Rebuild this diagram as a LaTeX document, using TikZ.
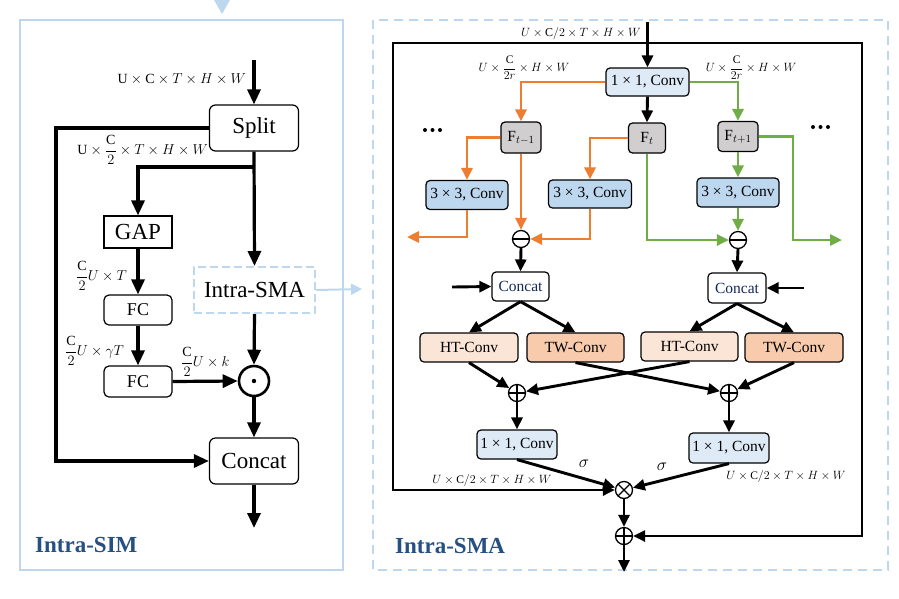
\documentclass[tikz,border=0pt]{standalone}
\usepackage{amsmath}
\usepackage{fontspec}
\setmainfont{Liberation Serif}
\usetikzlibrary{arrows.meta,calc}
\definecolor{frameblue}{RGB}{189,215,238}
\definecolor{convlight}{RGB}{222,235,247}
\definecolor{convmid}{RGB}{189,215,238}
\definecolor{fgray}{RGB}{208,206,206}
\definecolor{htfill}{RGB}{251,229,214}
\definecolor{twfill}{RGB}{248,203,173}
\definecolor{myorange}{RGB}{237,125,49}
\definecolor{mygreen}{RGB}{112,173,71}
\definecolor{titleblue}{RGB}{38,80,130}
\definecolor{catblue}{RGB}{20,40,90}
\begin{document}
\begin{tikzpicture}[x=1pt,y=-1pt,
  box/.style={draw=black, line width=1.2pt, rounded corners=4pt, inner sep=0pt, align=center},
  bigfont/.style={font=\fontsize{23}{26}\selectfont},
  midfont/.style={font=\fontsize{18}{21}\selectfont},
  smfont/.style={font=\fontsize{15.5}{18}\selectfont},
  lab/.style={font=\fontsize{14}{16}\selectfont, inner sep=0pt},
  rlab/.style={font=\fontsize{12}{14}\selectfont, inner sep=0pt},
  slab/.style={font=\fontsize{11.5}{13}\selectfont, inner sep=0pt},
  arrL/.style={line width=3.2pt, -{Triangle[length=15pt,width=13pt]}},
  arrR/.style={line width=2.9pt, -{Triangle[length=12pt,width=11pt]}},
  oarr/.style={arrR, draw=myorange, color=myorange},
  garr/.style={arrR, draw=mygreen, color=mygreen},
  opc/.style={circle, draw, line width=1.3pt, minimum size=17pt, inner sep=0pt},
  ominusc/.style={opc, path picture={\draw[line width=1.3pt] (path picture bounding box.west) -- (path picture bounding box.east);}},
  opluss/.style={opc, path picture={\draw[line width=1.3pt] (path picture bounding box.west) -- (path picture bounding box.east) (path picture bounding box.north) -- (path picture bounding box.south);}},
  otimess/.style={opc, path picture={\draw[line width=1.3pt] (path picture bounding box.south west) -- (path picture bounding box.north east) (path picture bounding box.north west) -- (path picture bounding box.south east);}},
  title/.style={font=\fontsize{23}{26}\selectfont\bfseries, text=titleblue, inner sep=0pt},
  dot/.style={circle, fill=black, inner sep=0pt, minimum size=4pt}
]
\useasboundingbox (0,0) rectangle (899,598);

% ---------------- frames ----------------
\draw[frameblue, line width=2.5pt] (20,20) rectangle (343,570);
\fill[frameblue] (214,0) -- (230,0) -- (222,14) -- cycle;
\draw[frameblue, line width=2.5pt, dash pattern=on 9pt off 6pt] (373,20) rectangle (888,570);

% ---------------- left panel (Intra-SIM) ----------------
\node[box, bigfont, minimum width=89pt, minimum height=46pt, rounded corners=6pt] (split) at (254,128) {Split};
\node[draw=black, line width=1.2pt, inner sep=0pt, bigfont, minimum width=68pt, minimum height=32pt] (gap) at (138,232) {GAP};
\node[box, midfont, minimum width=68pt, minimum height=30pt, rounded corners=5pt] (fc1) at (138,310) {FC};
\node[box, midfont, minimum width=68pt, minimum height=31pt, rounded corners=5pt] (fc2) at (138,381.5) {FC};
\node[draw=frameblue, line width=2pt, dash pattern=on 8pt off 4pt, inner sep=0pt, bigfont, minimum width=121pt, minimum height=46pt] (isma) at (254.5,290) {Intra-SMA};
\node[circle, draw, line width=2.6pt, minimum size=30pt, inner sep=0pt] (od) at (254,381) {};
\fill (od.center) circle (2.2pt);
\node[box, bigfont, minimum width=89pt, minimum height=46pt, rounded corners=6pt] (cc) at (254,461) {Concat};

\coordinate (lin) at (254,60);
\coordinate (br) at (254,167);
\coordinate (lout) at (254,528);
\coordinate (lcorner) at (56,128);

\draw[arrL] (lin) -- (split.north);
\draw[arrL] (split.west) -- (lcorner) |- (cc.west);
\draw[arrL] (split.south) -- (isma.north);
\draw[arrL] (br) -| (gap.north);
\draw[arrL] (gap.south) -- (fc1.north);
\draw[arrL] (fc1.south) -- (fc2.north);
\draw[arrL] (fc2.east) -- (od.west);
\draw[arrL] (isma.south) -- (od.north);
\draw[arrL] (od.south) -- (cc.north);
\draw[arrL] (cc.south) -- (lout);
\draw[frameblue, line width=2pt, -{Triangle[length=11pt,width=11pt]}] (isma.east) -- (362,289);

\node[lab, anchor=east] (l1) at (246,79) {$\mathrm{U}\times\mathrm{C}\times T\times H\times W$};
\node[lab, anchor=east] (l2) at (208,150) {$\mathrm{U}\times\dfrac{\mathrm{C}}{2}\times T\times H\times W$};
\node[lab, anchor=west] (l3) at (76,276) {$\dfrac{\mathrm{C}}{2}U\times T$};
\node[lab, anchor=west] (l4) at (65,351) {$\dfrac{\mathrm{C}}{2}U\times\gamma T$};
\node[lab, anchor=west] (l5) at (181,362) {$\dfrac{\mathrm{C}}{2}U\times k$};
\node[title, anchor=west] (t1) at (35,545) {Intra-SIM};

% ---------------- right panel (Intra-SMA) ----------------
\node[box, smfont, fill=convlight, minimum width=83pt, minimum height=28pt] (c11) at (647.5,82) {1 × 1, Conv};
\node[box, smfont, fill=fgray, minimum width=40pt, minimum height=31pt] (fm) at (521,137.5) {F$_{t-1}$};
\node[box, smfont, fill=fgray, minimum width=37pt, minimum height=30pt] (ft) at (647,138) {F$_t$};
\node[box, smfont, fill=fgray, minimum width=40pt, minimum height=30pt] (fp) at (738,136.5) {F$_{t+1}$};
\node[box, smfont, fill=convmid, minimum width=82pt, minimum height=29pt] (c3l) at (467,195) {3 × 3, Conv};
\node[box, smfont, fill=convmid, minimum width=83pt, minimum height=28pt] (c3m) at (590,194) {3 × 3, Conv};
\node[box, smfont, fill=convmid, minimum width=82pt, minimum height=29pt] (c3r) at (738,192.5) {3 × 3, Conv};
\node[ominusc] (om1) at (521,239) {};
\node[ominusc] (om2) at (738,240) {};
\node[box, smfont, text=catblue, minimum width=57pt, minimum height=29pt] (cat1) at (520.5,286.5) {Concat};
\node[box, smfont, text=catblue, minimum width=58pt, minimum height=30pt] (cat2) at (737,288) {Concat};
\node[box, smfont, fill=htfill, minimum width=98pt, minimum height=29pt] (ht1) at (469,347.5) {HT-Conv};
\node[box, smfont, fill=twfill, minimum width=97pt, minimum height=29pt] (tw1) at (575.5,347.5) {TW-Conv};
\node[box, smfont, fill=htfill, minimum width=97pt, minimum height=29pt] (ht2) at (689.5,346.5) {HT-Conv};
\node[box, smfont, fill=twfill, minimum width=98pt, minimum height=29pt] (tw2) at (794,347.5) {TW-Conv};
\node[opluss] (op1) at (517,393) {};
\node[opluss] (op2) at (729,393) {};
\node[box, smfont, fill=convlight, minimum width=80pt, minimum height=29pt] (cv1) at (517,444.5) {1 × 1, Conv};
\node[box, smfont, fill=convlight, minimum width=80pt, minimum height=30pt] (cv2) at (729,448) {1 × 1, Conv};
\node[otimess] (otm) at (624,490) {};
\node[opluss] (op3) at (624,536) {};

\coordinate (rin) at (647.5,22);
\coordinate (jn) at (647.5,43);
\coordinate (lcl) at (393,43);
\coordinate (rcr) at (862,43);
\coordinate (olft) at (407,237);
\coordinate (gcr) at (793,240);
\coordinate (grt) at (842,240);
\coordinate (cin1) at (452,287);
\coordinate (cin2) at (804,288);
\coordinate (rout) at (624,572);

\draw[arrR] (rin) -- (c11.north);
\draw[arrR] (jn) -- (lcl) |- (otm.west);
\draw[arrR] (jn) -- (rcr) |- (op3.east);
\draw[arrR] (c11.south) -- (ft.north);
% orange
\draw[oarr] (c11.west) -| (fm.north);
\draw[oarr] (fm.west) -| (c3l.north);
\draw[oarr] (c3l.south) |- (olft);
\draw[oarr] (fm.south) -- (om1.north);
\draw[oarr] (ft.west) -| (c3m.north);
\draw[oarr] (c3m.south) |- (om1.east);
% green
\draw[garr] (c11.east) -| (fp.north);
\draw[garr] (fp.south) -- (c3r.north);
\draw[garr] (c3r.south) -- (om2.north);
\draw[garr] (ft.south) |- (om2.west);
\draw[garr] (fp.east) -| (gcr) -- (grt);
% black lower part
\draw[arrR] (om1.south) -- (cat1.north);
\draw[arrR] (om2.south) -- (cat2.north);
\draw[arrR] (cin1) -- (cat1.west);
\draw[arrR] (cin2) -- (cat2.east);
\draw[arrR] (cat1.south) -- (ht1.north);
\draw[arrR] (cat1.south) -- (tw1.north);
\draw[arrR] (cat2.south) -- (ht2.north);
\draw[arrR] (cat2.south) -- (tw2.north);
\draw[arrR] (ht1.south) -- (op1);
\draw[arrR] (ht2.south) -- (op1);
\draw[arrR] (tw1.south) -- (op2);
\draw[arrR] (tw2.south) -- (op2);
\draw[arrR] (op1.south) -- (cv1.north);
\draw[arrR] (op2.south) -- (cv2.north);
\draw[arrR] (cv1.south) -- (otm);
\draw[arrR] (cv2.south) -- (otm);
\draw[arrR] (otm.south) -- (op3.north);
\draw[arrR] (op3.south) -- (rout);

% labels
\node[rlab, anchor=east] (r1) at (641,33) {$U\times\mathrm{C}/2\times T\times H\times W$};
\node[slab] (r2) at (524,68) {$U\times\dfrac{\mathrm{C}}{2r}\times H\times W$};
\node[slab] (r3) at (751,68) {$U\times\dfrac{\mathrm{C}}{2r}\times H\times W$};
\node[dot] (d1a) at (425,130) {};
\node[dot] (d1b) at (432.5,130) {};
\node[dot] (d1c) at (440,130) {};
\node[dot] (d2a) at (813,127) {};
\node[dot] (d2b) at (820.5,127) {};
\node[dot] (d2c) at (828,127) {};
\node[font=\fontsize{16}{18}\selectfont, inner sep=0pt] (s1) at (584,464) {$\sigma$};
\node[font=\fontsize{16}{18}\selectfont, inner sep=0pt] (s2) at (662,467) {$\sigma$};
\node[slab] (r4) at (492,480) {$U\times\mathrm{C}/2\times T\times H\times W$};
\node[slab] (r5) at (786,476) {$U\times\mathrm{C}/2\times T\times H\times W$};
\node[title, anchor=west] (t2) at (395,546) {Intra-SMA};
\end{tikzpicture}
\end{document}
